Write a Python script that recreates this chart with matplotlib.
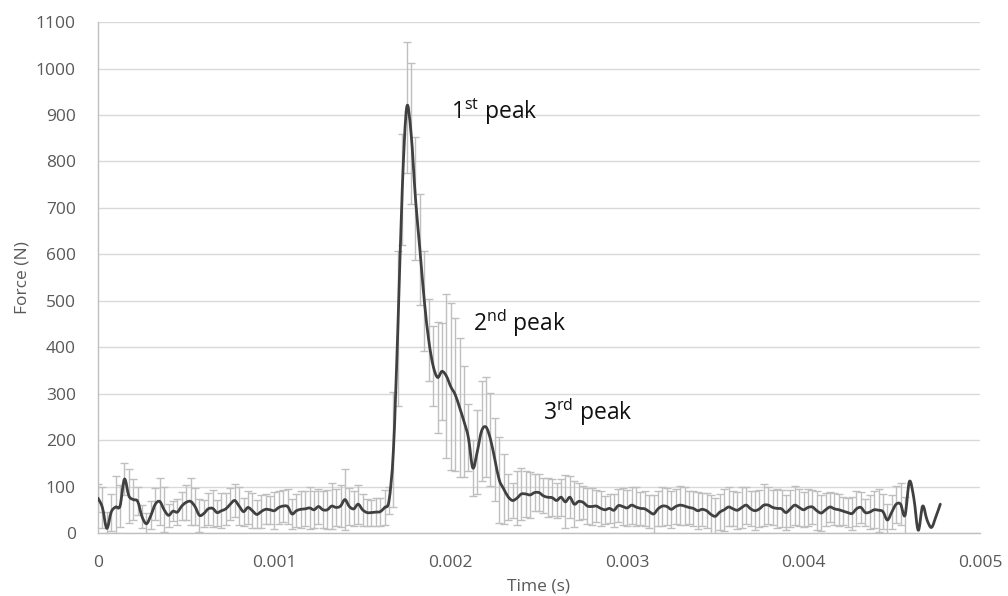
import numpy as np
import matplotlib
matplotlib.use("Agg")
import matplotlib.pyplot as plt
from matplotlib.path import Path
from matplotlib.patches import PathPatch

# Impact force record, sampled at 40 kHz
sample_interval = 2.5e-5  # s

force = [
    75, 55, 10, 45, 56, 58, 116, 80, 72, 68,
    35, 20, 38, 62, 68, 50, 38, 47, 45, 58,
    66, 68, 57, 38, 42, 52, 53, 44, 48, 52,
    62, 70, 58, 46, 55, 48, 40, 46, 51, 50,
    48, 55, 58, 57, 41, 48, 51, 52, 54, 50,
    57, 50, 50, 58, 55, 58, 72, 57, 52, 62,
    50, 44, 44, 45, 46, 55, 70, 180, 440, 740,
    916, 860, 720, 610, 500, 415, 360, 335, 348, 338,
    315, 298, 270, 240, 205, 140, 175, 220, 228, 202,
    158, 114, 95, 78, 70, 75, 84, 84, 82, 87,
    87, 80, 77, 76, 70, 77, 67, 77, 62, 68,
    66, 58, 57, 58, 53, 50, 53, 49, 59, 57,
    54, 60, 56, 53, 52, 46, 41, 52, 58, 57,
    51, 57, 60, 58, 55, 53, 48, 51, 48, 40,
    36, 45, 50, 56, 52, 49, 55, 60, 52, 48,
    52, 60, 60, 55, 53, 52, 44, 52, 60, 55,
    50, 55, 56, 48, 43, 50, 56, 52, 50, 47,
    44, 42, 52, 55, 44, 45, 50, 49, 46, 28,
    45, 62, 62, 38, 111, 75, 6, 58, 28, 12,
    35, 62,
]

# Standard deviation per sample (0 = no error bar recorded)
force_sd = [
    30, 45, 35, 40, 67, 45, 35, 58, 45, 30,
    25, 22, 30, 35, 50, 48, 25, 22, 28, 30,
    38, 50, 40, 35, 30, 35, 40, 28, 38, 35,
    35, 35, 40, 30, 35, 38, 30, 35, 32, 30,
    40, 36, 35, 38, 32, 35, 40, 38, 45, 40,
    38, 40, 42, 50, 40, 45, 66, 40, 38, 42,
    35, 30, 28, 30, 30, 38, 30, 123, 167, 120,
    140, 152, 133, 120, 108, 88, 86, 120, 105, 176,
    180, 165, 150, 120, 72, 60, 90, 108, 107, 100,
    90, 92, 75, 50, 37, 58, 55, 50, 50, 40,
    40, 38, 42, 40, 38, 40, 57, 45, 50, 40,
    35, 38, 40, 35, 38, 30, 32, 36, 35, 40,
    38, 40, 42, 36, 38, 35, 40, 38, 42, 40,
    40, 38, 42, 40, 35, 38, 40, 36, 38, 42,
    40, 38, 45, 42, 38, 40, 44, 40, 38, 42,
    40, 45, 40, 38, 42, 40, 38, 40, 42, 40,
    38, 40, 36, 42, 38, 36, 32, 34, 35, 30,
    32, 35, 38, 34, 30, 36, 40, 46, 38, 35,
    36, 40, 45, 40, 0, 0, 0, 0, 0, 0,
    0, 0,
]

x_ticks = [0, 0.001, 0.002, 0.003, 0.004, 0.005]
x_tick_labels = ["0", "0.001", "0.002", "0.003", "0.004", "0.005"]
y_ticks = list(range(0, 1101, 100))

peak_labels = ["1$^{\\mathrm{st}}$ peak", "2$^{\\mathrm{nd}}$ peak", "3$^{\\mathrm{rd}}$ peak"]
peak_label_pos = [(0.002, 906), (0.002126, 452), (0.002523, 260)]

plt.rcParams["font.family"] = ["Open Sans", "DejaVu Sans"]
plt.rcParams["mathtext.fontset"] = "custom"
plt.rcParams["mathtext.rm"] = "Open Sans"

F = np.asarray(force, dtype=float)
SD = np.asarray(force_sd, dtype=float)
t = np.arange(len(F)) * sample_interval

fig = plt.figure(figsize=(10.08, 5.96), dpi=100)
ax = fig.add_axes([0.0972, 0.1057, 0.875, 0.8573])

# error bars
has_sd = SD > 0
ax.errorbar(t[has_sd], F[has_sd], yerr=SD[has_sd], fmt="none",
            ecolor="#bfbfbf", elinewidth=1.0, capsize=2.6, capthick=1.0,
            zorder=2)

# smoothed line through the samples (cubic Bezier, Catmull-Rom tangents)
pts = np.column_stack([t, F])
n = len(pts)
verts = [pts[0]]
codes = [Path.MOVETO]
for i in range(n - 1):
    p_prev = pts[i - 1] if i > 0 else pts[i]
    p0 = pts[i]
    p1 = pts[i + 1]
    p_next = pts[i + 2] if i + 2 < n else pts[i + 1]
    c1 = p0 + (p1 - p_prev) / 6.0
    c2 = p1 - (p_next - p0) / 6.0
    verts.extend([c1, c2, p1])
    codes.extend([Path.CURVE4] * 3)
ax.add_patch(PathPatch(Path(verts, codes), facecolor="none",
                       edgecolor="#404040", lw=2.0, zorder=3,
                       capstyle="round", joinstyle="round"))

for txt, (px, py) in zip(peak_labels, peak_label_pos):
    ax.text(px, py, txt, fontsize=16.5, color="#111111", va="center", ha="left")

ax.set_xlim(0, 0.005)
ax.set_ylim(0, 1100)
ax.set_xticks(x_ticks)
ax.set_xticklabels(x_tick_labels)
ax.set_yticks(y_ticks)
ax.grid(axis="y", color="#d9d9d9", lw=1.0, zorder=0)
ax.set_axisbelow(True)
ax.tick_params(axis="both", length=0, labelsize=12.5, labelcolor="#595959")
ax.tick_params(axis="y", pad=16)
ax.tick_params(axis="x", pad=16)
for s in ["top", "right"]:
    ax.spines[s].set_visible(False)
for s in ["left", "bottom"]:
    ax.spines[s].set_color("#bfbfbf")
    ax.spines[s].set_linewidth(1.0)

ax.set_xlabel("Time (s)", fontsize=12.5, color="#595959", labelpad=5)
ax.set_ylabel("Force (N)", fontsize=12.5, color="#595959", labelpad=4)

fig.savefig("out.png", dpi=100, facecolor="white")
